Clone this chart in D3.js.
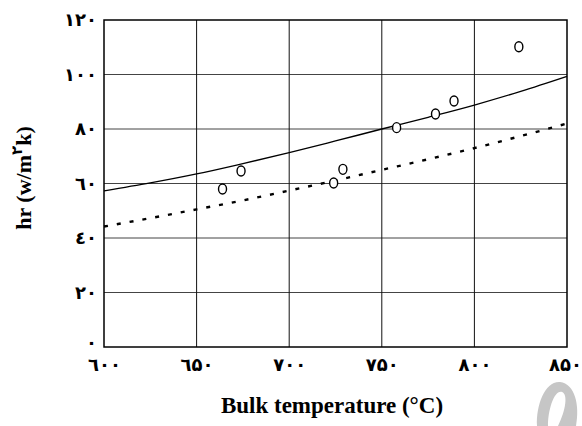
<!DOCTYPE html>
<html>
<head>
<meta charset="utf-8">
<script src="https://cdn.jsdelivr.net/npm/d3@7/dist/d3.min.js"></script>
<style>
  html, body { margin: 0; padding: 0; background: #fff; }
  svg { display: block; }
</style>
</head>
<body>
<svg id="chart" width="582" height="426"></svg>
<script>
// Measured heat transfer coefficient vs. bulk temperature
const measuredT = [664, 674, 724, 729, 758, 779, 789, 824];
const measuredH = [58.0, 64.6, 60.2, 65.2, 80.5, 85.5, 90.3, 110.2];

// Correlation curve (solid)
const solidT = [600, 625, 650, 675, 700, 725, 750, 775, 800, 825, 850];
const solidH = [57.3, 60.2, 63.5, 67.3, 71.3, 75.6, 80.0, 84.3, 88.8, 93.8, 99.3];

// Second correlation (dotted)
const dottedT = [600, 625, 650, 675, 700, 725, 750, 775, 800, 825, 850];
const dottedH = [44.2, 47.3, 50.5, 53.8, 57.4, 61.1, 65.0, 68.9, 73.0, 77.4, 82.0];

// Axis ticks and labels (Persian digits)
const xTicks = [600, 650, 700, 750, 800, 850];
const xTickLabels = ["٦٠٠", "٦۵٠", "٧٠٠", "٧۵٠", "٨٠٠", "٨۵٠"];
const yTicks = [0, 20, 40, 60, 80, 100, 120];
const yTickLabels = ["٠", "٢٠", "٤٠", "٦٠", "٨٠", "١٠٠", "١٢٠"];

const svg = d3.select("#chart");
const plotL = 104, plotR = 567, plotT = 20, plotB = 347;

const x = d3.scaleLinear().domain([600, 850]).range([plotL, plotR]);
const y = d3.scaleLinear().domain([0, 120]).range([plotB, plotT]);

const digitFont = "'DejaVu Sans', 'Noto Sans', sans-serif";
const serif = "'Liberation Serif', 'Times New Roman', serif";

// Grid
svg.append("g").selectAll("line").data(yTicks.slice(1, -1)).join("line")
  .attr("x1", plotL).attr("x2", plotR)
  .attr("y1", d => y(d)).attr("y2", d => y(d))
  .attr("stroke", "#444").attr("stroke-width", 1);
svg.append("g").selectAll("line").data(xTicks.slice(1, -1)).join("line")
  .attr("y1", plotT).attr("y2", plotB)
  .attr("x1", d => x(d)).attr("x2", d => x(d))
  .attr("stroke", "#111").attr("stroke-width", 1);

// Axes (tick labels only; frame drawn separately)
const xAxis = d3.axisBottom(x).tickValues(xTicks).tickSize(0).tickPadding(11)
  .tickFormat((d, i) => xTickLabels[i]);
const gx = svg.append("g").attr("transform", `translate(0,${plotB})`).call(xAxis);
gx.select(".domain").remove();
gx.selectAll("text").attr("font-family", digitFont).attr("font-weight", "bold")
  .attr("font-size", 18).attr("fill", "#000");
// keep the last label inside the page edge
gx.selectAll(".tick").filter(d => d === 850).select("text").attr("dx", -2);

const yAxis = d3.axisLeft(y).tickValues(yTicks).tickSize(0).tickPadding(7)
  .tickFormat((d, i) => yTickLabels[i]);
const gy = svg.append("g").attr("transform", `translate(${plotL},0)`).call(yAxis);
gy.select(".domain").remove();
gy.selectAll("text").attr("font-family", digitFont).attr("font-weight", "bold")
  .attr("font-size", 18).attr("fill", "#000");
gy.selectAll(".tick").filter(d => d === 0).select("text").attr("dy", "0.1em");

// Frame
svg.append("rect").attr("x", plotL).attr("y", plotT)
  .attr("width", plotR - plotL).attr("height", plotB - plotT)
  .attr("fill", "none").attr("stroke", "#000").attr("stroke-width", 1.5);

// Curves
const line = d3.line().curve(d3.curveMonotoneX);
svg.append("path")
  .attr("d", line(solidT.map((t, i) => [x(t), y(solidH[i])])))
  .attr("fill", "none").attr("stroke", "#000").attr("stroke-width", 1.3);
svg.append("path")
  .attr("d", line(dottedT.map((t, i) => [x(t), y(dottedH[i])])))
  .attr("fill", "none").attr("stroke", "#000").attr("stroke-width", 2.4)
  .attr("stroke-dasharray", "4 9");

// Measured points
svg.append("g").selectAll("ellipse").data(measuredT).join("ellipse")
  .attr("cx", d => x(d)).attr("cy", (d, i) => y(measuredH[i]))
  .attr("rx", 4).attr("ry", 5)
  .attr("fill", "#fff").attr("stroke", "#000").attr("stroke-width", 1.4);

// Axis titles
svg.append("text").attr("x", 332).attr("y", 413)
  .attr("text-anchor", "middle").attr("font-family", serif)
  .attr("font-weight", "bold").attr("font-size", 23).attr("fill", "#000")
  .text("Bulk temperature (°C)");

const yt = svg.append("text")
  .attr("transform", "translate(31,178) rotate(-90)")
  .attr("text-anchor", "middle").attr("font-family", serif)
  .attr("font-weight", "bold").attr("font-size", 22).attr("fill", "#000");
yt.append("tspan").text("hr (w/m");
yt.append("tspan").attr("dy", -9).attr("font-size", 15).attr("font-family", digitFont).text("٢");
yt.append("tspan").attr("dy", 9).text("k)");

// Corner emblem
svg.append("path")
  .attr("fill", "#c6c6c6").attr("fill-rule", "evenodd")
  .attr("d", "M560,382 C575,384 580,405 576,426 L537,426 C536,405 545,381 560,382 Z " +
             "M562,392 C568,394 566,410 558,426 L548,426 C548,410 554,390 562,392 Z");
</script>
</body>
</html>
